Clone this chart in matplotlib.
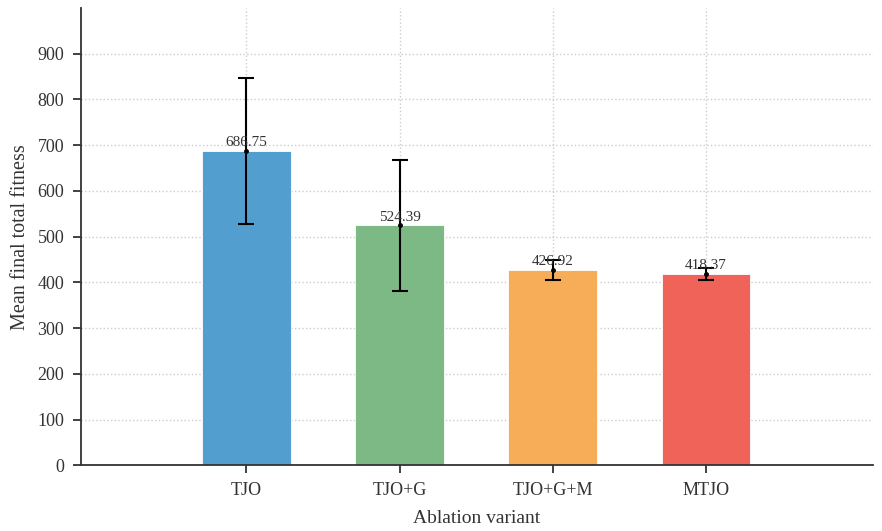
import matplotlib
matplotlib.use("Agg")
import matplotlib.pyplot as plt

categories = ["TJO", "TJO+G", "TJO+G+M", "MTJO"]
means = [686.75, 524.39, 426.92, 418.37]
stds = [160.0, 143.0, 21.0, 13.5]
colors = ["#529ECF", "#7CB984", "#F7AD58", "#F06359"]
y_ticks = [0, 100, 200, 300, 400, 500, 600, 700, 800, 900]

plt.rcParams['font.family'] = ['Liberation Serif', 'DejaVu Serif']

fig = plt.figure(figsize=(8.82, 5.31), dpi=100)
ax = fig.add_axes([0.0918, 0.1237, 0.898, 0.8613])

x = list(range(len(categories)))
ax.bar(x, means, width=0.58, color=colors, edgecolor="white", linewidth=0.6, zorder=2)
ax.errorbar(x, means, yerr=stds, fmt='o', color='black', markersize=2.5,
            elinewidth=1.5, capsize=6, capthick=1.5, zorder=3)
for xi, m in zip(x, means):
    ax.text(xi, m + 4, f"{m:.2f}", ha='center', va='bottom', fontsize=11, color='#333333', zorder=4)

ax.set_xlim(-1.08, 4.09)
ax.set_ylim(0, 1000)
ax.set_yticks(y_ticks)
ax.set_xticks(x)
ax.set_xticklabels(categories)
ax.tick_params(axis='both', labelsize=13, colors='#333333', length=6, width=1.3)
ax.tick_params(axis='x', pad=6)
ax.tick_params(axis='y', pad=6)
ax.set_xlabel("Ablation variant", fontsize=14, color='#333333', labelpad=8)
ax.set_ylabel("Mean final total fitness", fontsize=14.5, color='#333333', labelpad=5.5)
ax.grid(True, linestyle=':', color='#cccccc', linewidth=1.0, zorder=0)
ax.set_axisbelow(True)
for s in ['top', 'right']:
    ax.spines[s].set_visible(False)
for s in ['left', 'bottom']:
    ax.spines[s].set_color('#333333')
    ax.spines[s].set_linewidth(1.3)

fig.savefig("out.png", dpi=100)
